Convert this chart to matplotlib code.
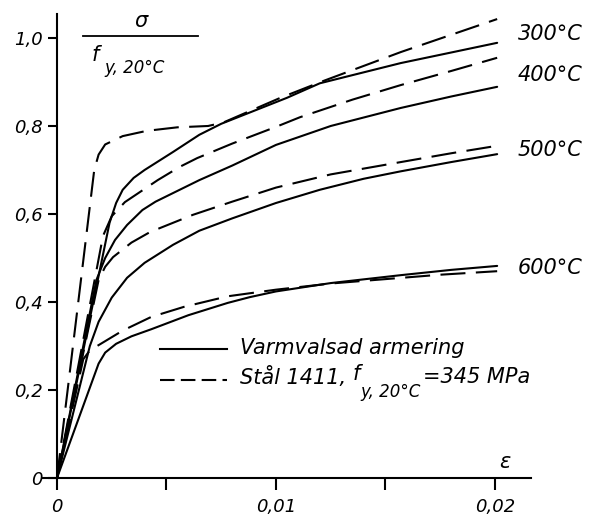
import matplotlib
matplotlib.use("Agg")
import matplotlib.pyplot as plt
from matplotlib.lines import Line2D

plt.rcParams['font.family'] = ['DejaVu Sans']

# ---- data (strain, sigma / f_y,20C) ----
s300_x = [0, 0.0024, 0.0027, 0.0030, 0.0035, 0.0040, 0.0053, 0.0065, 0.0075, 0.0105, 0.0120, 0.0157, 0.0180, 0.0201]
s300_y = [0, 0.580, 0.625, 0.655, 0.682, 0.700, 0.741, 0.780, 0.805, 0.864, 0.897, 0.943, 0.967, 0.989]

d300_x = [0, 0.0017, 0.0019, 0.0022, 0.0030, 0.0041, 0.0055, 0.0069, 0.0076, 0.0102, 0.0122, 0.0157, 0.0201]
d300_y = [0, 0.700, 0.735, 0.758, 0.777, 0.789, 0.797, 0.800, 0.808, 0.864, 0.903, 0.968, 1.043]

s400_x = [0, 0.0018, 0.0022, 0.00265, 0.0032, 0.0039, 0.0045, 0.0065, 0.0080, 0.0100, 0.0125, 0.0157, 0.0180, 0.0201]
s400_y = [0, 0.450, 0.500, 0.541, 0.575, 0.609, 0.628, 0.677, 0.710, 0.757, 0.800, 0.841, 0.867, 0.889]

d400_x = [0, 0.0021, 0.0025, 0.0031, 0.0040, 0.0046, 0.0056, 0.0064, 0.0080, 0.0100, 0.0111, 0.0135, 0.0157, 0.0180, 0.0201]
d400_y = [0, 0.550, 0.595, 0.627, 0.657, 0.677, 0.707, 0.727, 0.760, 0.798, 0.820, 0.860, 0.893, 0.925, 0.955]

s500_x = [0, 0.0015, 0.0019, 0.0025, 0.0032, 0.0040, 0.0053, 0.0065, 0.0080, 0.0100, 0.0120, 0.0140, 0.0157, 0.0180, 0.0201]
s500_y = [0, 0.300, 0.355, 0.410, 0.455, 0.489, 0.530, 0.562, 0.590, 0.625, 0.655, 0.680, 0.697, 0.718, 0.736]

d500_x = [0, 0.0019, 0.0022, 0.00256, 0.0034, 0.00425, 0.0062, 0.0080, 0.0100, 0.0125, 0.0157, 0.0180, 0.0201]
d500_y = [0, 0.450, 0.480, 0.502, 0.535, 0.559, 0.598, 0.628, 0.660, 0.690, 0.718, 0.738, 0.755]

s600_x = [0, 0.0019, 0.0022, 0.0027, 0.0034, 0.0043, 0.0060, 0.0078, 0.0088, 0.0100, 0.0125, 0.0157, 0.0180, 0.0201]
s600_y = [0, 0.260, 0.285, 0.305, 0.322, 0.338, 0.370, 0.398, 0.411, 0.424, 0.443, 0.461, 0.473, 0.482]

d600_x = [0, 0.0012, 0.0015, 0.0020, 0.0030, 0.0043, 0.0058, 0.0078, 0.0100, 0.0125, 0.0150, 0.0175, 0.0201]
d600_y = [0, 0.270, 0.290, 0.305, 0.335, 0.366, 0.389, 0.413, 0.428, 0.442, 0.452, 0.462, 0.470]

temp_labels = ["300°C", "400°C", "500°C", "600°C"]
temp_label_y = [1.009, 0.916, 0.745, 0.477]

xtick_vals = [0, 0.005, 0.01, 0.015, 0.02]
xtick_labels = ["0", "", "0,01", "", "0,02"]
ytick_vals = [0, 0.2, 0.4, 0.6, 0.8, 1.0]
ytick_labels = ["0", "0,2", "0,4", "0,6", "0,8", "1,0"]

W, H = 600, 517
fig = plt.figure(figsize=(W / 100, H / 100), dpi=100)
ax = fig.add_axes([0.0658, 0.0584, 0.887 - 0.0658, 0.9776 - 0.0584])
ax.set_xlim(-0.0008, 0.0217)
ax.set_ylim(-0.02, 1.06)

def fx(px):
    return px / W

def fy(py):
    return 1 - py / H

lw = 1.5
dash = (0, (12, 5))
for xs, ys in [(s300_x, s300_y), (s400_x, s400_y), (s500_x, s500_y), (s600_x, s600_y)]:
    ax.plot(xs, ys, color='black', lw=lw, solid_joinstyle='round', solid_capstyle='round')
for xs, ys in [(d300_x, d300_y), (d400_x, d400_y), (d500_x, d500_y), (d600_x, d600_y)]:
    ax.plot(xs, ys, color='black', lw=lw, linestyle=dash, dash_joinstyle='round', dash_capstyle='butt')

# axes styling
for side in ['top', 'right']:
    ax.spines[side].set_visible(False)
ax.spines['left'].set_position(('data', 0))
ax.spines['bottom'].set_position(('data', 0))
ax.spines['left'].set_bounds(0, 1.055)
ax.spines['bottom'].set_bounds(-0.00064, 0.02163)
for side in ['left', 'bottom']:
    ax.spines[side].set_linewidth(1.5)
ax.set_xticks(xtick_vals)
ax.set_xticklabels(xtick_labels, fontstyle='italic', fontsize=13)
ax.set_yticks(ytick_vals)
ax.set_yticklabels(ytick_labels, fontstyle='italic', fontsize=13)
ax.tick_params(axis='y', direction='out', length=6.5, width=1.5, pad=4)
ax.tick_params(axis='x', direction='out', length=8.6, width=1.5, pad=6)

# temperature labels
for lab, yv in zip(temp_labels, temp_label_y):
    ax.text(0.02105, yv, lab, fontsize=15, fontstyle='italic', ha='left', va='center', clip_on=False)

# y-axis label as fraction sigma / f_y,20C
fig.text(fx(141), fy(21), "σ", fontsize=15, fontstyle='italic', ha='center', va='center')
fig.add_artist(Line2D([fx(83), fx(198)], [fy(36), fy(36)], color='black', lw=1.3))
fig.text(fx(95), fy(55), "f", fontsize=15, fontstyle='italic', ha='center', va='center')
fig.text(fx(104), fy(68), "y, 20°C", fontsize=12, fontstyle='italic', ha='left', va='center')

# x-axis label
fig.text(fx(505), fy(462), "ε", fontsize=15, fontstyle='italic', ha='center', va='center')

# legend
fig.add_artist(Line2D([fx(160), fx(227)], [fy(349), fy(349)], color='black', lw=lw))
fig.add_artist(Line2D([fx(160), fx(227)], [fy(380), fy(380)], color='black', lw=lw, linestyle=(0, (7, 3))))
fig.text(fx(240), fy(348), "Varmvalsad armering", fontsize=15, fontstyle='italic', ha='left', va='center')

fig.canvas.draw()
r = fig.canvas.get_renderer()
t1 = fig.text(fx(240), fy(378), "Stål 1411, ", fontsize=15, fontstyle='italic', ha='left', va='center')
e = t1.get_window_extent(r)
t2 = fig.text(e.x1 / W, fy(374), "f", fontsize=15, fontstyle='italic', ha='left', va='center')
e = t2.get_window_extent(r)
t3 = fig.text(e.x1 / W, fy(392), "y, 20°C", fontsize=12, fontstyle='italic', ha='left', va='center')
e = t3.get_window_extent(r)
t4 = fig.text(e.x1 / W + 0.004, fy(377), "=345 MPa", fontsize=15, fontstyle='italic', ha='left', va='center')

fig.savefig("out.png", dpi=100)
